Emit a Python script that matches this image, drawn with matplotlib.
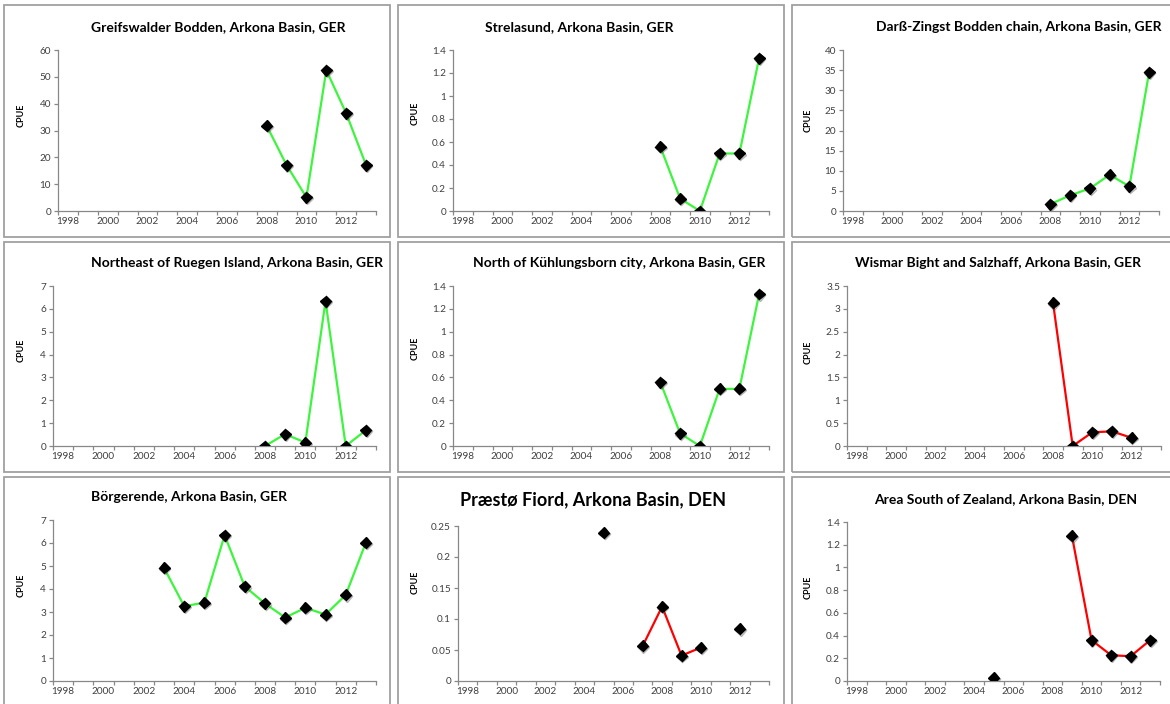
import numpy as np
import matplotlib
matplotlib.use("Agg")
import matplotlib.pyplot as plt
from matplotlib.patches import Rectangle
import matplotlib.patheffects as pe

plt.rcParams['font.family'] = ['Lato', 'DejaVu Sans']

W, H = 1170, 704

# data, one series per panel
yrs_greifswald = [2008, 2009, 2010, 2011, 2012, 2013]
cpue_greifswald = [31.8, 17.1, 5.1, 52.5, 36.4, 17.1]

yrs_strelasund = [2008, 2009, 2010, 2011, 2012, 2013]
cpue_strelasund = [0.558, 0.108, 0.0, 0.5, 0.5, 1.33]

yrs_darss = [2008, 2009, 2010, 2011, 2012, 2013]
cpue_darss = [1.7, 3.9, 5.6, 9.0, 6.1, 34.5]

yrs_ruegen = [2008, 2009, 2010, 2011, 2012, 2013]
cpue_ruegen = [0.0, 0.52, 0.15, 6.34, 0.0, 0.69]

yrs_kuehlungsborn = [2008, 2009, 2010, 2011, 2012, 2013]
cpue_kuehlungsborn = [0.558, 0.11, 0.0, 0.5, 0.5, 1.33]

yrs_wismar = [2008, 2009, 2010, 2011, 2012]
cpue_wismar = [3.13, 0.0, 0.30, 0.32, 0.18]

yrs_boergerende = [2003, 2004, 2005, 2006, 2007, 2008, 2009, 2010, 2011, 2012, 2013]
cpue_boergerende = [4.92, 3.25, 3.41, 6.34, 4.11, 3.37, 2.76, 3.18, 2.89, 3.74, 6.02]

yrs_praestoe = [2005, 2006, 2007, 2008, 2009, 2010, 2011, 2012]
cpue_praestoe = [0.239, np.nan, 0.0565, 0.120, 0.041, 0.054, np.nan, 0.084]

yrs_zealand = [2005, 2006, 2007, 2008, 2009, 2010, 2011, 2012, 2013]
cpue_zealand = [0.03, np.nan, np.nan, np.nan, 1.277, 0.36, 0.227, 0.218, 0.36]

titles = ["Greifswalder Bodden, Arkona Basin, GER",
          "Strelasund, Arkona Basin, GER",
          "Darß-Zingst Bodden chain, Arkona Basin, GER",
          "Northeast of Ruegen Island, Arkona Basin, GER",
          "North of Kühlungsborn city, Arkona Basin, GER",
          "Wismar Bight and Salzhaff, Arkona Basin, GER",
          "Börgerende, Arkona Basin, GER",
          "Præstø Fiord, Arkona Basin, DEN",
          "Area South of Zealand, Arkona Basin, DEN"]

year_labels = [1998, 2000, 2002, 2004, 2006, 2008, 2010, 2012]
GREEN = '#3cf53c'
RED = '#ff0000'

# (years, values, ymax, ystep, colour)
panels = [
    (yrs_greifswald, cpue_greifswald, 60, 10, GREEN),
    (yrs_strelasund, cpue_strelasund, 1.4, 0.2, GREEN),
    (yrs_darss, cpue_darss, 40, 5, GREEN),
    (yrs_ruegen, cpue_ruegen, 7, 1, GREEN),
    (yrs_kuehlungsborn, cpue_kuehlungsborn, 1.4, 0.2, GREEN),
    (yrs_wismar, cpue_wismar, 3.5, 0.5, RED),
    (yrs_boergerende, cpue_boergerende, 7, 1, GREEN),
    (yrs_praestoe, cpue_praestoe, 0.25, 0.05, RED),
    (yrs_zealand, cpue_zealand, 1.4, 0.2, RED),
]

# pixel layout: axes box (left, right, top, bottom), title centre, ylabel centre
axes_px = [(58, 376, 50, 211), (453, 769, 50, 211), (843, 1159, 50, 211),
           (53, 376, 286, 446), (453, 769, 286, 446), (847, 1161, 286, 446),
           (53, 376, 520, 681), (458, 769, 526, 681), (847, 1160, 522, 681)]
title_px = [(218, 27), (579, 27), (1019, 27),
            (237, 263), (619, 263), (998, 263),
            (189, 497), (593, 500), (1006, 499)]
ylab_px = [(21, 115), (415, 113), (808, 120),
           (21, 350), (415, 348), (808, 352),
           (21, 585), (415, 582), (808, 587)]
panel_cols = [(4, 390), (398, 784), (792, 1178)]
panel_rows = [(5, 237), (242, 472), (477, 712)]

fig = plt.figure(figsize=(W / 100, H / 100), dpi=100)

for r in panel_rows:
    for c in panel_cols:
        fig.add_artist(Rectangle((c[0] / W, 1 - r[1] / H), (c[1] - c[0]) / W, (r[1] - r[0]) / H,
                                 transform=fig.transFigure, fill=False,
                                 edgecolor='#a0a0a0', linewidth=1.3))

for i, (yrs, vals, ymax, ystep, col) in enumerate(panels):
    l, rgt, t, b = axes_px[i]
    ax = fig.add_axes([l / W, 1 - b / H, (rgt - l) / W, (b - t) / H])
    ax.set_facecolor('none')
    ax.plot(yrs, vals, color=col, lw=1.6, zorder=2)
    ax.plot(yrs, vals, ls='none', marker='D', ms=5.6, color='black', zorder=3,
            path_effects=[pe.SimpleLineShadow(offset=(0.6, -0.8), shadow_color='#555555', alpha=0.45),
                          pe.Normal()])
    ax.set_xlim(1997.5, 2013.5)
    ax.set_ylim(0, ymax)
    ax.set_yticks(np.arange(0, ymax + ystep / 2, ystep))
    ax.set_yticklabels(['%g' % round(v, 3) for v in np.arange(0, ymax + ystep / 2, ystep)])
    ax.set_xticks(np.arange(1997.5, 2014, 1.0))
    ax.set_xticklabels([])
    ax.set_xticks(year_labels, minor=True)
    ax.set_xticklabels([str(y) for y in year_labels], minor=True)
    ax.tick_params(which='major', length=3, width=0.9, color='#888888', direction='out')
    ax.tick_params(labelsize=7.2, labelcolor='#404040', pad=2)
    ax.tick_params(axis='x', which='minor', length=0, labelsize=7.2, labelcolor='#404040', pad=4)
    for s in ['top', 'right']:
        ax.spines[s].set_visible(False)
    for s in ['left', 'bottom']:
        ax.spines[s].set_color('#888888')
        ax.spines[s].set_linewidth(0.9)

    tx, ty = title_px[i]
    fsize = 13 if i == 7 else 10
    fig.text(tx / W, 1 - ty / H, titles[i], ha='center', va='center',
             fontsize=fsize, fontweight='bold', color='black')
    lx, ly = ylab_px[i]
    fig.text(lx / W, 1 - ly / H, 'CPUE', ha='center', va='center', rotation=90,
             fontsize=6.5, fontweight='bold', color='black')

fig.savefig('out.png', dpi=100, facecolor='white')
